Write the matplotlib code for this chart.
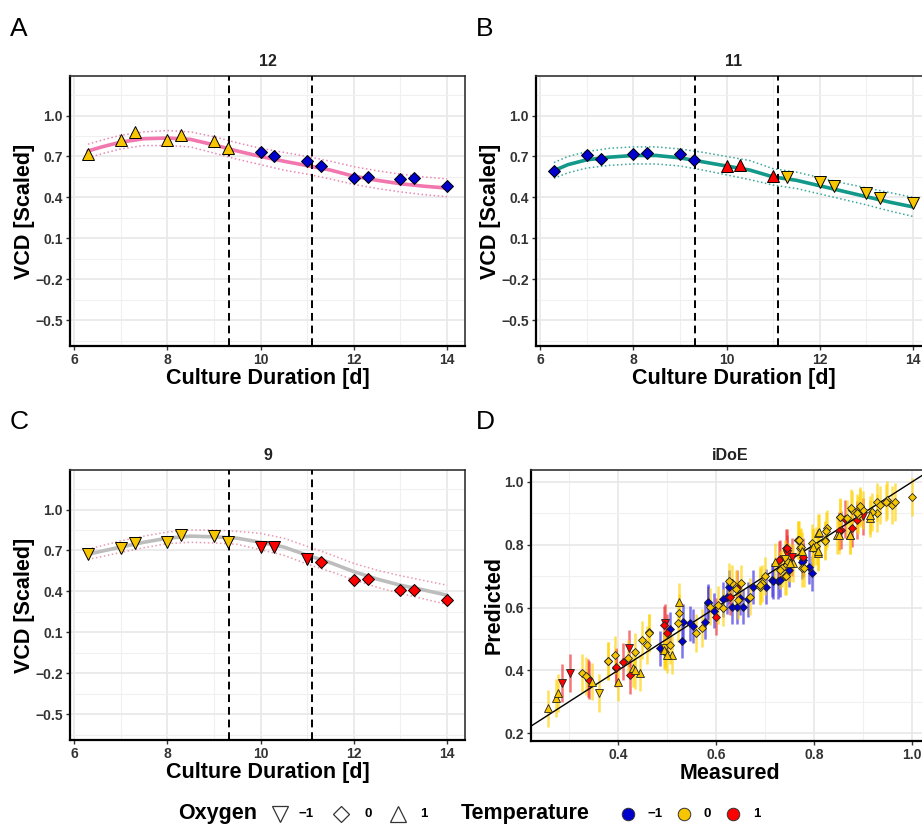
import numpy as np
import matplotlib
matplotlib.use("Agg")
import matplotlib.pyplot as plt
from matplotlib.ticker import FixedLocator

plt.rcParams['font.family'] = ['Liberation Sans', 'DejaVu Sans']

# ---- VCD time courses (panels A-C) ----
days = [6.3, 7.0, 7.3, 8.0, 8.3, 9.0, 9.3, 10.0, 10.3, 11.0, 11.3, 12.0, 12.3, 13.0, 13.3, 14.0]

vcd_12 = [0.72, 0.82, 0.88, 0.82, 0.856, 0.81, 0.764, 0.73, 0.706, 0.667, 0.633, 0.54, 0.552, 0.533, 0.54, 0.487]
oxy_12 = [1, 1, 1, 1, 1, 1, 1, 0, 0, 0, 0, 0, 0, 0, 0, 0]
temp_12 = [0, 0, 0, 0, 0, 0, 0, -1, -1, -1, -1, -1, -1, -1, -1, -1]

vcd_11 = [0.594, 0.713, 0.684, 0.718, 0.723, 0.718, 0.674, 0.633, 0.64, 0.56, 0.547, 0.51, 0.487, 0.43, 0.394, 0.358]
oxy_11 = [0, 0, 0, 0, 0, 0, 0, 1, 1, 1, -1, -1, -1, -1, -1, -1]
temp_11 = [-1, -1, -1, -1, -1, -1, -1, 1, 1, 1, 0, 0, 0, 0, 0, 0]

vcd_9 = [0.672, 0.72, 0.754, 0.759, 0.815, 0.808, 0.762, 0.725, 0.725, 0.64, 0.616, 0.487, 0.494, 0.41, 0.41, 0.336]
oxy_9 = [-1, -1, -1, -1, -1, -1, -1, -1, -1, -1, 0, 0, 0, 0, 0, 0]
temp_9 = [0, 0, 0, 0, 0, 0, 0, 1, 1, 1, 1, 1, 1, 1, 1, 1]

fit_days = [6.3, 6.6, 7.0, 7.5, 8.0, 8.5, 9.0, 9.5, 10.0, 10.5, 11.0, 11.5, 12.0, 12.5, 13.0, 13.5, 14.0]
fit_12 = [0.74, 0.77, 0.805, 0.83, 0.835, 0.825, 0.785, 0.74, 0.70, 0.665, 0.633, 0.60, 0.555, 0.525, 0.50, 0.482, 0.468]
up_12 = [0.79, 0.82, 0.855, 0.88, 0.89, 0.88, 0.845, 0.80, 0.76, 0.73, 0.70, 0.665, 0.625, 0.595, 0.57, 0.55, 0.535]
lo_12 = [0.69, 0.72, 0.755, 0.78, 0.78, 0.77, 0.725, 0.68, 0.64, 0.60, 0.57, 0.535, 0.495, 0.465, 0.44, 0.42, 0.405]

fit_11 = [0.596, 0.64, 0.675, 0.695, 0.707, 0.707, 0.69, 0.66, 0.63, 0.60, 0.55, 0.525, 0.485, 0.445, 0.405, 0.365, 0.33]
up_11 = [0.655, 0.70, 0.735, 0.76, 0.77, 0.77, 0.755, 0.73, 0.70, 0.67, 0.61, 0.585, 0.545, 0.505, 0.47, 0.435, 0.40]
lo_11 = [0.54, 0.58, 0.615, 0.635, 0.645, 0.645, 0.63, 0.60, 0.565, 0.53, 0.49, 0.465, 0.425, 0.385, 0.345, 0.30, 0.26]

fit_9 = [0.672, 0.695, 0.725, 0.76, 0.79, 0.805, 0.80, 0.79, 0.76, 0.725, 0.665, 0.61, 0.545, 0.49, 0.445, 0.41, 0.372]
up_9 = [0.71, 0.735, 0.77, 0.805, 0.835, 0.85, 0.85, 0.84, 0.825, 0.79, 0.73, 0.67, 0.605, 0.555, 0.515, 0.48, 0.445]
lo_9 = [0.635, 0.655, 0.685, 0.72, 0.75, 0.76, 0.755, 0.745, 0.705, 0.665, 0.60, 0.545, 0.485, 0.43, 0.385, 0.345, 0.305]

stage_days = [9.33, 11.1]

# ---- iDoE predicted vs measured (panel D) ----
pts_up_yellow = [(.258, .279), (.273, .313), (.277, .327), (.346, .364), (.399, .362), (.431, .407), (.445, .393),
                 (.51, .449), (.494, .465), (.525, .619), (.758, .741), (.809, .775), (.809, .837), (.846, .831),
                 (.873, .831), (.914, .884), (.72, .746), (.751, .741), (.798, .793), (.915, .895), (.85, .83),
                 (.874, .83), (.81, .839), (.808, .779), (.775, .779), (.435, .40), (.50, .45)]
pts_dia_yellow = [(.326, .391), (.335, .382), (.38, .43), (.394, .449), (.421, .438), (.435, .46), (.448, .497),
                  (.464, .521), (.496, .46), (.525, .582), (.523, .55), (.506, .481), (.571, .534), (.588, .603),
                  (.605, .608), (.632, .677), (.652, .677), (.645, .624), (.669, .635), (.69, .667), (.693, .677),
                  (.734, .725), (.741, .699), (.768, .815), (.772, .789), (.775, .725), (.795, .805), (.822, .815),
                  (.826, .852), (.853, .889), (.867, .884), (.877, .911), (.894, .916), (.89, .895), (.928, .9),
                  (.928, .937), (.935, .927), (.959, .927), (.965, .937), (1.0, .951), (.90, .911), (.95, .943),
                  (.627, .683), (.689, .672), (.731, .72), (.743, .70), (.746, .746), (.767, .815), (.78, .726),
                  (.774, .793), (.947, .935), (.918, .905), (.893, .924), (.876, .916), (.888, .90), (.853, .887),
                  (.824, .843), (.822, .812), (.798, .79), (.805, .796), (.77, .815), (.463, .52), (.459, .481),
                  (.379, .43), (.56, .52), (.615, .60), (.64, .66), (.70, .70)]
pts_down_yellow = [(.362, .327), (.74, .755), (.495, .47)]
pts_down_red = [(.285, .359), (.302, .391), (.423, .47), (.496, .552), (.90, .89), (.745, .77), (.755, .76)]
pts_dia_red = [(.339, .375), (.396, .407), (.41, .428), (.424, .384), (.493, .545), (.50, .518), (.60, .571),
               (.629, .635), (.731, .754), (.743, .789), (.778, .762), (.856, .847), (.877, .852), (.887, .879),
               (.642, .661), (.728, .752), (.745, .789), (.863, .881), (.852, .843), (.34, .37), (.395, .41)]
pts_dia_blue = [(.486, .47), (.506, .531), (.53, .495), (.533, .555), (.547, .55), (.554, .541), (.578, .555),
                (.584, .614), (.595, .59), (.622, .635), (.632, .603), (.642, .601), (.656, .603), (.666, .626),
                (.676, .665), (.703, .667), (.714, .688), (.727, .683), (.748, .72), (.778, .752), (.789, .73),
                (.795, .709), (.615, .626), (.584, .619), (.627, .665), (.649, .63), (.716, .683), (.731, .689),
                (.775, .746)]

d_meas, d_pred, d_oxy, d_temp = [], [], [], []
for pts, o, t in [(pts_dia_blue, 0, -1), (pts_down_red, -1, 1), (pts_dia_red, 0, 1),
                  (pts_down_yellow, -1, 0), (pts_dia_yellow, 0, 0), (pts_up_yellow, 1, 0)]:
    for m, p in pts:
        d_meas.append(m)
        d_pred.append(p)
        d_oxy.append(o)
        d_temp.append(t)

err_by_temp = {-1: 0.055, 0: 0.06, 1: 0.06}

temp_colors = {-1: '#0000CD', 0: '#F7C600', 1: '#FF0000'}
err_colors = {-1: '#3B2BE0', 0: '#FFD200', 1: '#F03030'}
oxy_markers = {-1: 'v', 0: 'D', 1: '^'}
oxy_sizes = {-1: 8, 0: 5.8, 1: 8}

W, H = 922, 825
fig = plt.figure(figsize=(W / 100, H / 100), dpi=100)


def px_axes(left, top, right, bottom):
    return fig.add_axes([left / W, 1 - bottom / H, (right - left) / W, (bottom - top) / H])


def style(ax):
    ax.set_axisbelow(True)
    ax.grid(which='major', color='#E8E8E8', lw=1.2)
    ax.grid(which='minor', color='#F0F0F0', lw=0.8)
    for s in ax.spines.values():
        s.set_color('#333333')
        s.set_linewidth(1.2)
    for s in ('left', 'bottom'):
        ax.spines[s].set_color('black')
        ax.spines[s].set_linewidth(1.6)
    ax.tick_params(which='major', length=3, width=1, colors='#333333', labelsize=10, pad=2)
    ax.tick_params(which='minor', length=0)
    for lab in ax.get_xticklabels() + ax.get_yticklabels():
        lab.set_fontweight('bold')
        lab.set_color('#333333')


def vcd_panel(ax, title, vcd, oxy, temp, fit, up, lo, color, bandcolor):
    ax.plot(fit_days, up, ls=':', color=bandcolor, lw=1.1, zorder=2)
    ax.plot(fit_days, lo, ls=':', color=bandcolor, lw=1.1, zorder=2)
    ax.plot(fit_days, fit, color=color, lw=2.6, zorder=3, solid_capstyle='round')
    for x in stage_days:
        ax.axvline(x, color='black', ls=(0, (4, 2.5)), lw=1.4, zorder=4)
    for x, y, o, t in zip(days, vcd, oxy, temp):
        ax.plot(x, y, marker=oxy_markers[o], ms=oxy_sizes[o], mfc=temp_colors[t], mec='black',
                mew=0.7, ls='none', zorder=5)
    ax.set_xlim(5.915, 14.385)
    ax.set_ylim(-0.69, 1.29)
    ax.xaxis.set_major_locator(FixedLocator([6, 8, 10, 12, 14]))
    ax.xaxis.set_minor_locator(FixedLocator([7, 9, 11, 13]))
    ax.yaxis.set_major_locator(FixedLocator([-0.5, -0.2, 0.1, 0.4, 0.7, 1.0]))
    ax.yaxis.set_minor_locator(FixedLocator([-0.65, -0.35, -0.05, 0.25, 0.55, 0.85, 1.15]))
    ax.set_yticklabels(['\u22120.5', '\u22120.2', '0.1', '0.4', '0.7', '1.0'])
    ax.set_title(title, fontsize=11.5, fontweight='bold', color='#222222', pad=7)
    ax.set_xlabel('Culture Duration [d]', fontsize=15.5, fontweight='bold', labelpad=1)
    ax.set_ylabel('VCD [Scaled]', fontsize=15.5, fontweight='bold', labelpad=0)
    style(ax)


axA = px_axes(70, 76, 465, 346)
vcd_panel(axA, '12', vcd_12, oxy_12, temp_12, fit_12, up_12, lo_12, '#F177AE', '#E889B3')
axB = px_axes(536, 76, 931, 346)
vcd_panel(axB, '11', vcd_11, oxy_11, temp_11, fit_11, up_11, lo_11, '#13998A', '#3AA89B')
axC = px_axes(70, 470, 465, 740)
vcd_panel(axC, '9', vcd_9, oxy_9, temp_9, fit_9, up_9, lo_9, '#BDBDBD', '#E79AAE')

axD = px_axes(531, 470, 929, 741)
for m, p, t in zip(d_meas, d_pred, d_temp):
    e = err_by_temp[t]
    axD.plot([m, m], [p - e, p + e], color=err_colors[t], alpha=0.65, lw=1.8, zorder=2,
             solid_capstyle='butt')
axD.plot([0.1, 1.1], [0.1, 1.1], color='black', lw=1.0, zorder=3)
for m, p, o, t in zip(d_meas, d_pred, d_oxy, d_temp):
    axD.plot(m, p, marker=oxy_markers[o], ms=oxy_sizes[o] * 0.66, mfc=temp_colors[t], mec='#222222',
             mew=0.6, ls='none', zorder=4)
axD.set_xlim(0.2224, 1.0347)
axD.set_ylim(0.175, 1.038)
axD.xaxis.set_major_locator(FixedLocator([0.4, 0.6, 0.8, 1.0]))
axD.xaxis.set_minor_locator(FixedLocator([0.3, 0.5, 0.7, 0.9]))
axD.yaxis.set_major_locator(FixedLocator([0.2, 0.4, 0.6, 0.8, 1.0]))
axD.yaxis.set_minor_locator(FixedLocator([0.3, 0.5, 0.7, 0.9]))
axD.set_title('iDoE', fontsize=11.5, fontweight='bold', color='#222222', pad=7)
axD.set_xlabel('Measured', fontsize=15.5, fontweight='bold', labelpad=1)
axD.set_ylabel('Predicted', fontsize=15.5, fontweight='bold', labelpad=0)
style(axD)

# panel letters
for lab, x, y in [('A', 10, 29), ('B', 476, 29), ('C', 10, 422), ('D', 476, 422)]:
    fig.text(x / W, 1 - y / H, lab, fontsize=19, va='center', ha='left')

# legend strip
lax = fig.add_axes([0, 0, 1, 1], zorder=-1)
lax.set_xlim(0, W)
lax.set_ylim(H, 0)
lax.axis('off')
ly = 814
lax.text(178, ly, 'Oxygen', fontsize=15.5, fontweight='bold', va='center', ha='left')
for x, o, tx, lab in [(280, -1, 298, '\u22121'), (341, 0, 364, '0'), (398, 1, 420, '1')]:
    lax.plot(x, ly, marker=oxy_markers[o], ms=11 if o != 0 else 8.5, mfc='white', mec='#333333', mew=0.9)
    lax.text(tx, ly, lab, fontsize=9.5, fontweight='bold', va='center', ha='left')
lax.text(461, ly, 'Temperature', fontsize=15.5, fontweight='bold', va='center', ha='left')
for x, t, tx, lab in [(628, -1, 647, '\u22121'), (684, 0, 703, '0'), (733, 1, 753, '1')]:
    lax.plot(x, ly, marker='o', ms=9, mfc=temp_colors[t], mec='#333333', mew=0.7)
    lax.text(tx, ly, lab, fontsize=9.5, fontweight='bold', va='center', ha='left')

fig.savefig('out.png', dpi=100, facecolor='white')
